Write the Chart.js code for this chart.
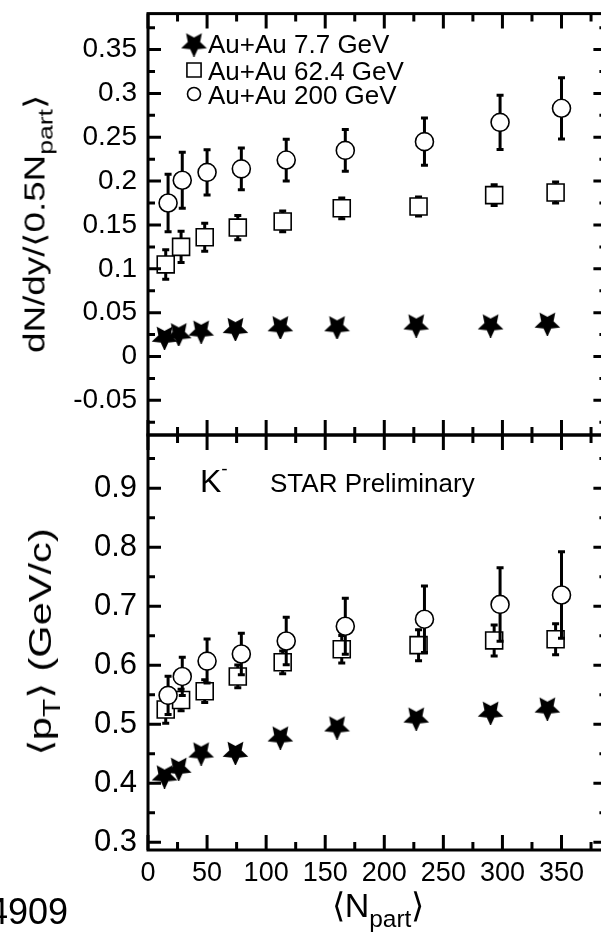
<!DOCTYPE html>
<html>
<head>
<meta charset="utf-8">
<script src="https://cdn.jsdelivr.net/npm/chart.js@4.4.0/dist/chart.umd.min.js"></script>
<style>
  html, body { margin: 0; padding: 0; background: #fff; overflow: hidden; }
  #wrap { position: relative; width: 601px; height: 946px; overflow: hidden;
          font-family: "Liberation Sans", Arial, sans-serif; color: #000; }
  canvas { position: absolute; left: 0; top: 0; }
  .lbl { position: absolute; white-space: nowrap; line-height: 1; }
  .lbl sub { font-size: 0.72em; vertical-align: -0.4em; line-height: 0; }
  .lbl sup { font-size: 0.6em; vertical-align: 0.9em; line-height: 0; }
</style>
</head>
<body>
<div id="wrap">
  <canvas id="topChart" width="620" height="946"></canvas>
  <canvas id="botChart" width="620" height="946"></canvas>

  <div class="lbl" style="left:35px; top:224px; font-size:29px; transform: translate(-50%,-50%) rotate(-90deg) scaleX(1.27);">dN/dy/⟨0.5N<sub>part</sub>⟩</div>
  <div class="lbl" style="left:40px; top:642px; font-size:32px; transform: translate(-50%,-50%) rotate(-90deg) scaleX(1.3);">⟨p<sub>T</sub>⟩ (GeV/c)</div>
  <div class="lbl" style="left:378px; top:888px; font-size:34px; transform: translateX(-50%);">⟨N<sub>part</sub>⟩</div>
  <div class="lbl" style="right:533px; top:894px; font-size:36px;">4909</div>
  <div class="lbl" style="left:200px; top:465px; font-size:32px;">K<sup>-</sup></div>
  <div class="lbl" style="left:270px; top:470px; font-size:26px;">STAR Preliminary</div>
</div>
<script>
// <Npart> for each energy
const npart77  = [14, 26, 45, 74, 112, 160, 227, 290, 338];
const npart624 = [15, 28, 48, 76, 114, 164, 229, 293, 345];
const npart200 = [17, 29, 50, 79, 117, 167, 234, 298, 350];

// dN/dy / <0.5 Npart>
const yield77     = [0.023, 0.027, 0.030, 0.033, 0.035, 0.035, 0.037, 0.037, 0.039];
const yield624    = [0.105, 0.125, 0.136, 0.147, 0.154, 0.169, 0.171, 0.184, 0.187];
const yield624Err = [0.018, 0.019, 0.017, 0.015, 0.013, 0.013, 0.012, 0.013, 0.013];
const yield200    = [0.175, 0.201, 0.210, 0.214, 0.224, 0.235, 0.245, 0.267, 0.283];
const yield200Err = [0.034, 0.033, 0.027, 0.025, 0.025, 0.025, 0.028, 0.032, 0.036];

// <pT> (GeV/c)
const pt77     = [0.414, 0.427, 0.453, 0.454, 0.480, 0.497, 0.512, 0.522, 0.529];
const pt624    = [0.525, 0.541, 0.556, 0.581, 0.605, 0.627, 0.634, 0.642, 0.644];
const pt624Err = [0.025, 0.020, 0.021, 0.021, 0.021, 0.025, 0.028, 0.028, 0.028];
const pt200    = [0.549, 0.581, 0.607, 0.619, 0.641, 0.666, 0.678, 0.703, 0.719];
const pt200Err = [0.034, 0.034, 0.039, 0.037, 0.042, 0.049, 0.058, 0.064, 0.075];

const seriesLabels = ['Au+Au 7.7 GeV', 'Au+Au 62.4 GeV', 'Au+Au 200 GeV'];

const FONT = '"Liberation Sans", Arial, sans-serif';
Chart.defaults.font.family = FONT;
Chart.defaults.color = '#000';

// filled star, one point down
function makeStar(size) {
  const c = document.createElement('canvas');
  c.width = size; c.height = size;
  const g = c.getContext('2d');
  const R = size / 2, r = R * 0.48;
  g.beginPath();
  for (let i = 0; i < 10; i++) {
    const a = Math.PI / 2 + i * Math.PI / 5;
    const rad = i % 2 ? r : R;
    g.lineTo(R + rad * Math.cos(a), R * 1.08 + rad * Math.sin(a));
  }
  g.closePath();
  g.fillStyle = '#000';
  g.fill();
  return c;
}
const starImg = makeStar(27);

function pts(xs, ys) { return xs.map((x, i) => ({ x: x, y: ys[i] })); }

function makeSets(y77, y624, e624, y200, e200) {
  return [
    { label: seriesLabels[0], data: pts(npart77, y77), pointStyle: starImg, order: 3,
      backgroundColor: '#000', borderColor: '#000' },
    { label: seriesLabels[1], data: pts(npart624, y624), errors: e624, pointStyle: 'rect',
      pointRadius: 12, borderWidth: 1.6, borderColor: '#000', backgroundColor: '#fff', order: 2 },
    { label: seriesLabels[2], data: pts(npart200, y200), errors: e200, pointStyle: 'circle',
      pointRadius: 9, borderWidth: 1.6, borderColor: '#000', backgroundColor: '#fff', order: 1 }
  ];
}

// vertical error bars, drawn just before each dataset's markers
const errorBars = {
  id: 'errorBars',
  beforeDatasetDraw(chart, args) {
    const ds = chart.data.datasets[args.index];
    if (!ds.errors) return;
    const ctx = chart.ctx, ys = chart.scales.y;
    ctx.save();
    ctx.strokeStyle = '#000';
    ctx.lineWidth = 3;
    args.meta.data.forEach((pt, i) => {
      const v = ds.data[i].y, e = ds.errors[i];
      const top = ys.getPixelForValue(v + e), bot = ys.getPixelForValue(v - e);
      ctx.beginPath();
      ctx.moveTo(pt.x, top); ctx.lineTo(pt.x, bot);
      ctx.moveTo(pt.x - 3.5, top + 1); ctx.lineTo(pt.x + 3.5, top + 1);
      ctx.moveTo(pt.x - 3.5, bot - 1); ctx.lineTo(pt.x + 3.5, bot - 1);
      ctx.stroke();
    });
    ctx.restore();
  }
};

// frame with inward ticks on all four sides
const frameTicks = {
  id: 'frameTicks',
  afterDraw(chart, args, o) {
    const ctx = chart.ctx, a = chart.chartArea;
    const xs = chart.scales.x, ys = chart.scales.y;
    ctx.save();
    ctx.strokeStyle = '#000';
    ctx.lineWidth = 3;
    ctx.beginPath();
    const seg = (x1, y1, x2, y2) => { ctx.moveTo(x1, y1); ctx.lineTo(x2, y2); };
    let i0 = Math.ceil(xs.min / o.xMinor - 1e-6), i1 = Math.floor(xs.max / o.xMinor + 1e-6);
    for (let i = i0; i <= i1; i++) {
      const p = xs.getPixelForValue(i * o.xMinor);
      const L = i % 2 === 0 ? 15 : 8;
      seg(p, a.bottom, p, a.bottom - L);
      seg(p, a.top, p, a.top + L);
    }
    i0 = Math.ceil(ys.min / o.yMinor - 1e-6); i1 = Math.floor(ys.max / o.yMinor + 1e-6);
    for (let i = i0; i <= i1; i++) {
      const p = ys.getPixelForValue(i * o.yMinor);
      const L = i % 2 === 0 ? 13 : 7;
      seg(a.left, p, a.left + L, p);
      seg(a.right, p, a.right - L, p);
    }
    ctx.stroke();
    ctx.strokeRect(a.left, a.top, a.right - a.left, a.bottom - a.top);
    ctx.restore();
  }
};

// legend inside the upper panel
const insideLegend = {
  id: 'insideLegend',
  afterDraw(chart, args, o) {
    if (!o.rows) return;
    const ctx = chart.ctx;
    ctx.save();
    ctx.font = o.size + 'px ' + FONT;
    ctx.textBaseline = 'alphabetic';
    chart.data.datasets.forEach((ds, i) => {
      const base = o.rows[i];
      ctx.fillStyle = ds.backgroundColor;
      ctx.strokeStyle = '#000';
      ctx.lineWidth = 1.6;
      Chart.helpers.drawPoint(ctx, { pointStyle: ds.pointStyle, radius: o.radius[i], rotation: 0, borderWidth: 1.6 },
        o.markerX, base - 10);
      ctx.fillStyle = '#000';
      ctx.fillText(ds.label, o.textX, base);
    });
    ctx.restore();
  }
};

function zeroPad(scale) { scale.paddingTop = 0; scale.paddingBottom = 0; scale.paddingLeft = 0; scale.paddingRight = 0; }
function tickText(v) { return String(+v.toFixed(3)); }

new Chart(document.getElementById('topChart'), {
  type: 'scatter',
  data: { datasets: makeSets(yield77, yield624, yield624Err, yield200, yield200Err) },
  options: {
    responsive: false, animation: false, events: [],
    layout: { padding: { top: 9, bottom: 511, left: 0, right: 10 } },
    plugins: {
      legend: { display: false }, tooltip: { enabled: false },
      frameTicks: { xMinor: 25, yMinor: 0.025 },
      insideLegend: { rows: [53, 80, 104], radius: [0, 10, 6.5], markerX: 194, textX: 208, size: 26 }
    },
    scales: {
      x: { type: 'linear', min: 0, max: 388, display: false },
      y: { type: 'linear', min: -0.0895, max: 0.391,
           grid: { display: false, drawTicks: false }, border: { display: false },
           ticks: { stepSize: 0.05, includeBounds: false, padding: 11, font: { size: 28 }, callback: tickText },
           afterFit(s) { s.width = 148; zeroPad(s); } }
    }
  },
  plugins: [errorBars, frameTicks, insideLegend]
});

new Chart(document.getElementById('botChart'), {
  type: 'scatter',
  data: { datasets: makeSets(pt77, pt624, pt624Err, pt200, pt200Err) },
  options: {
    responsive: false, animation: false, events: [],
    layout: { padding: { top: 435, bottom: 56, left: 0, right: 10 } },
    plugins: {
      legend: { display: false }, tooltip: { enabled: false },
      frameTicks: { xMinor: 25, yMinor: 0.05 },
      insideLegend: {}
    },
    scales: {
      x: { type: 'linear', min: 0, max: 388,
           grid: { display: false, drawTicks: false }, border: { display: false },
           ticks: { stepSize: 50, includeBounds: false, padding: 7, maxRotation: 0, font: { size: 27 }, callback: tickText },
           afterFit(s) { s.height = 40; zeroPad(s); } },
      y: { type: 'linear', min: 0.287, max: 0.99,
           grid: { display: false, drawTicks: false }, border: { display: false },
           ticks: { stepSize: 0.1, includeBounds: false, padding: 11, font: { size: 31 }, callback: tickText },
           afterFit(s) { s.width = 148; zeroPad(s); } }
    }
  },
  plugins: [errorBars, frameTicks, insideLegend]
});
</script>
</body>
</html>
